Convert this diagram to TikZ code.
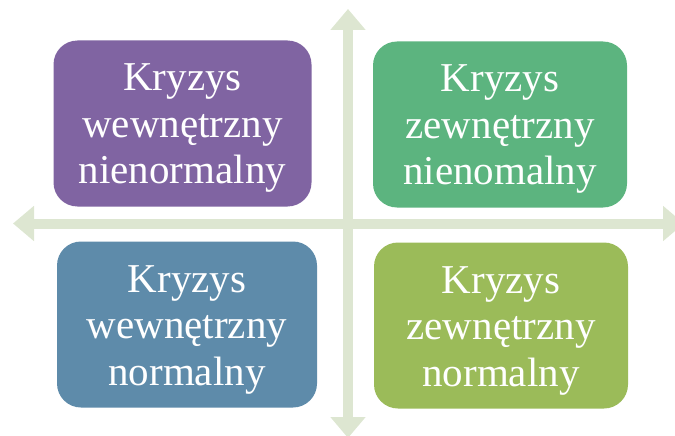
\documentclass[tikz,border=0pt]{standalone}
\usepackage{fontspec}
\setmainfont{Liberation Serif}
\usetikzlibrary{arrows.meta}
\definecolor{cpurple}{HTML}{8064A2}
\definecolor{cgreen}{HTML}{5CB47F}
\definecolor{cblue}{HTML}{5E8BAA}
\definecolor{colive}{HTML}{9BBB59}
\definecolor{carrow}{HTML}{DDE6D1}
\tikzset{
  quad/.style={rounded corners=24pt, minimum width=258pt, minimum height=166pt, inner sep=0pt},
  txt/.style={inner sep=0pt, align=center, text=white, font=\fontsize{41}{46.5}\selectfont},
  axis/.style={draw=carrow, line width=10pt,
    arrows={Triangle[width=34pt,length=21pt,fill=carrow]-Triangle[width=34pt,length=21pt,fill=carrow]}}
}
\begin{document}
\begin{tikzpicture}[x=1pt,y=-1pt]
\useasboundingbox (0,0) rectangle (675,436);
\coordinate (top) at (348,9);
\coordinate (bot) at (348,438);
\coordinate (lft) at (13,223.5);
\coordinate (rgt) at (684,223.5);
\draw[axis] (top) -- (bot);
\draw[axis] (lft) -- (rgt);
\node[quad, fill=cpurple] (q1) at (182.5,123.5) {};
\node[quad, fill=cgreen, minimum width=254pt] (q2) at (500,124.5) {};
\node[quad, fill=cblue, minimum width=260pt] (q3) at (187,324.5) {};
\node[quad, fill=colive, minimum width=254pt] (q4) at (501,325.5) {};
\node[txt] (t1) at ([yshift=-5pt]q1.center) {Kryzys\\wewnętrzny\\nienormalny};
\node[txt] (t2) at ([yshift=-5pt]q2.center) {Kryzys\\zewnętrzny\\nienomalny};
\node[txt] (t3) at ([yshift=-5pt]q3.center) {Kryzys\\wewnętrzny\\normalny};
\node[txt] (t4) at ([yshift=-5pt]q4.center) {Kryzys\\zewnętrzny\\normalny};
\end{tikzpicture}
\end{document}
